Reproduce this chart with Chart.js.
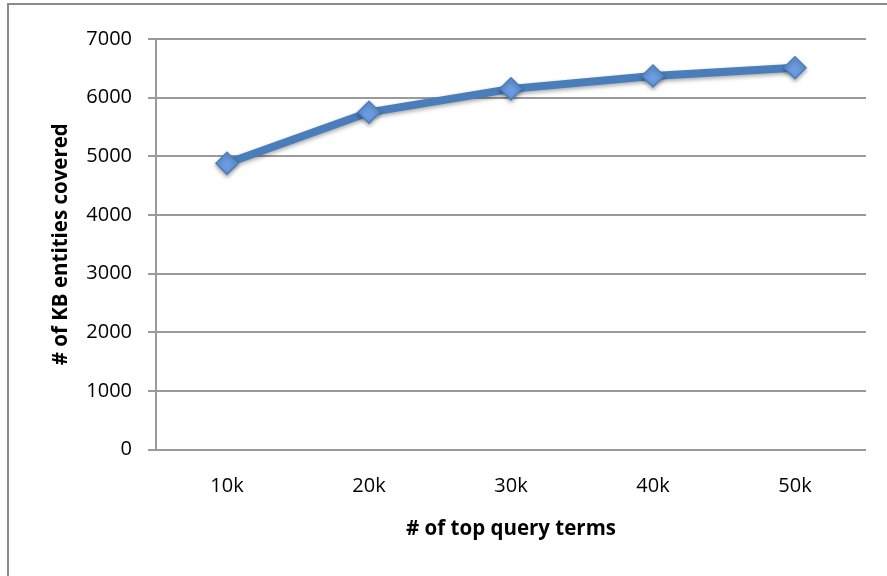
<!DOCTYPE html>
<html>
<head>
<meta charset="utf-8">
<script src="https://cdn.jsdelivr.net/npm/chart.js@4/dist/chart.umd.min.js"></script>
<style>
  html, body { margin: 0; padding: 0; background: #fff; }
  #wrap { position: relative; width: 887px; height: 576px; overflow: hidden; }
  #frame { position: absolute; left: 7px; top: 3px; width: 900px; height: 600px; border: 2px solid #8a8a8a; box-sizing: border-box; }
  canvas { position: absolute; left: 0; top: 0; }
</style>
</head>
<body>
<div id="wrap">
  <div id="frame"></div>
  <canvas id="c" width="887" height="576"></canvas>
</div>
<script>
// Coverage of knowledge-base entities by the most frequent query terms
const queryTerms = ['10k', '20k', '30k', '40k', '50k'];
const entitiesCovered = [4880, 5750, 6150, 6370, 6510];
const yTicks = [0, 1000, 2000, 3000, 4000, 5000, 6000, 7000];

const FONT = "'Open Sans', sans-serif";

// soft drop shadow under the line and markers
const shadowPlugin = {
  id: 'lineShadow',
  beforeDatasetsDraw(chart) {
    const ctx = chart.ctx;
    ctx.save();
    ctx.shadowColor = 'rgba(0,0,0,0.35)';
    ctx.shadowBlur = 4;
    ctx.shadowOffsetY = 2;
  },
  afterDatasetsDraw(chart) {
    chart.ctx.restore();
  }
};

new Chart(document.getElementById('c'), {
  type: 'line',
  data: {
    labels: queryTerms,
    datasets: [{
      data: entitiesCovered,
      borderColor: '#4a7ebb',
      borderWidth: 8,
      pointStyle: 'rectRot',
      pointRadius: 11,
      pointHoverRadius: 11,
      pointBackgroundColor: '#6b9be0',
      pointBorderColor: '#4a7ebb',
      pointBorderWidth: 1.5,
      tension: 0,
      fill: false
    }]
  },
  options: {
    responsive: false,
    animation: false,
    events: [],
    layout: { padding: { left: 0, right: 21, top: 39, bottom: 0 } },
    plugins: { legend: { display: false }, tooltip: { enabled: false } },
    scales: {
      x: {
        offset: true,
        afterFit(scale) { scale.height = 126.5; },
        grid: { display: false, drawTicks: false },
        border: { display: false },
        ticks: { color: '#000', font: { family: FONT, size: 20 }, padding: 25 },
        title: {
          display: true,
          text: '# of top query terms',
          color: '#000',
          font: { family: FONT, size: 20.5, weight: 'bold' },
          padding: { top: 0, bottom: 35 }
        }
      },
      y: {
        min: 0,
        max: 7000,
        afterFit(scale) { scale.width = 156; },
        afterBuildTicks(scale) { scale.ticks = yTicks.map(v => ({ value: v })); },
        grid: { color: '#9a9a9a', lineWidth: 2, drawTicks: true, tickLength: 8, tickColor: '#9a9a9a' },
        border: { display: true, color: '#9a9a9a', width: 2 },
        ticks: { color: '#000', font: { family: FONT, size: 20 }, padding: 16, callback: v => String(v) },
        title: {
          display: true,
          text: '# of KB entities covered',
          color: '#000',
          font: { family: FONT, size: 20.5, weight: 'bold' },
          padding: { top: 49, bottom: 0 }
        }
      }
    }
  },
  plugins: [shadowPlugin]
});
</script>
</body>
</html>
